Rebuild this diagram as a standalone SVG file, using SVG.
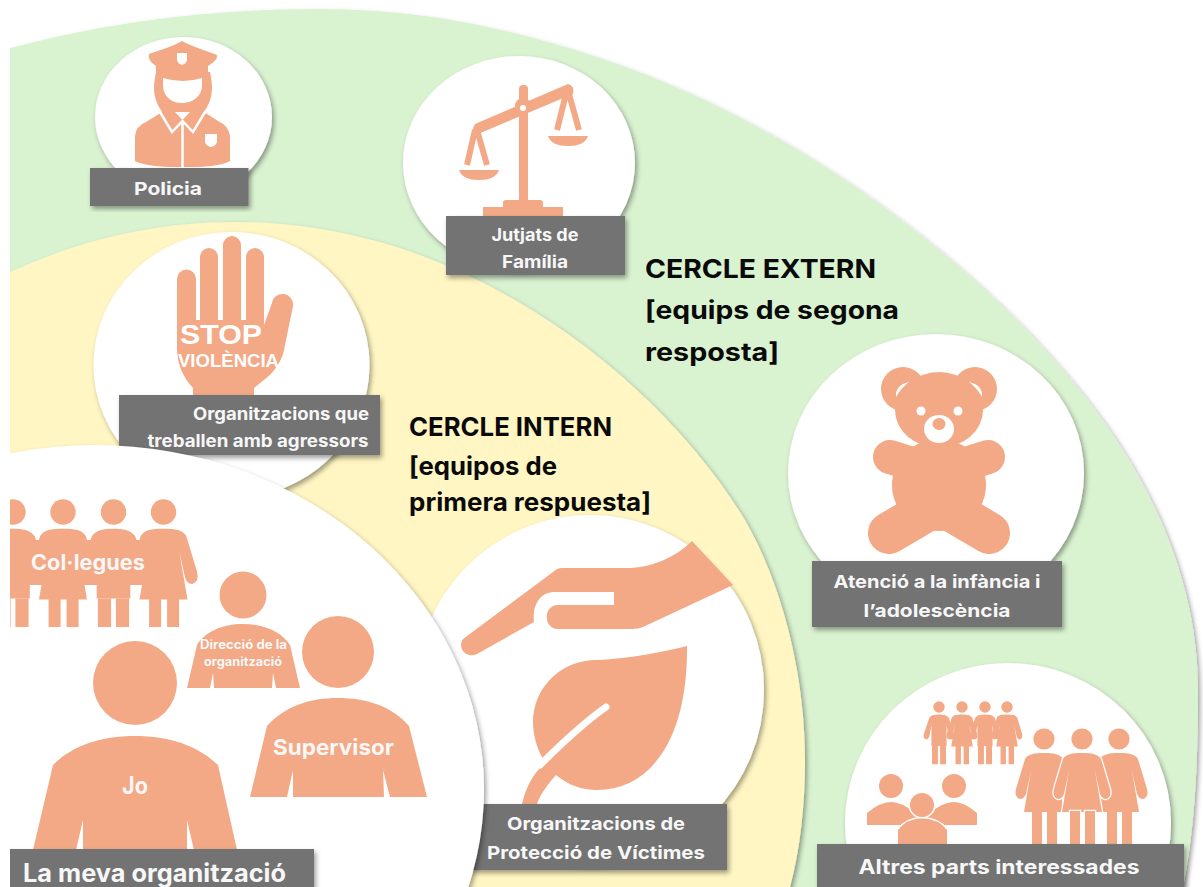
<svg xmlns="http://www.w3.org/2000/svg" xmlns:xlink="http://www.w3.org/1999/xlink" width="1203" height="887" viewBox="0 0 1203 887">
<style>
.ic{fill:#F3A985}
.w{fill:#fff}
.wl{fill:none;stroke:#fff;stroke-linecap:round}
.disc{fill:#fff;filter:url(#sh)}
.lab{fill:#737373;filter:url(#sh)}
text{font-family:"Inter","Liberation Sans",sans-serif}
.t{fill:#F7F7F7;font-weight:700;text-anchor:middle}
.h{fill:#0A0A0A;font-weight:700;font-size:25.500px}
.s{font-family:"Liberation Sans",Arial,sans-serif;font-weight:700;fill:#fff;text-anchor:middle}
</style>
<defs>
<filter id="sh" x="-10%" y="-10%" width="125%" height="125%"><feDropShadow dx="2" dy="3" stdDeviation="2.5" flood-color="#000" flood-opacity=".38"/></filter>
<clipPath id="page"><rect x="10" y="0" width="1193" height="887"/></clipPath>
<clipPath id="coll"><rect x="10" y="490" width="200" height="137"/></clipPath>
<g id="woman"><circle r="10.6"/><path d="M0 14C10 14 16 15 19 20L28 50Q30 58 24 60Q20 60 18 55L13 32L20 73L-20 73L-13 32L-18 55Q-20 60-24 60Q-30 58-28 50L-19 20C-16 15-10 14 0 14Z"/><rect x="-12" y="72" width="10" height="34"/><rect x="3" y="72" width="10" height="34"/></g>
<g id="man"><circle r="10.6"/><path d="M0 14C8 14 14 15 18 20L28 50Q30 58 24 60Q20 60 18 55L14 34L14 72L-14 72L-14 34L-18 55Q-20 60-24 60Q-30 58-28 50L-18 20C-14 15-8 14 0 14Z"/><rect x="-13" y="72" width="11" height="34"/><rect x="2" y="72" width="11" height="34"/></g>
</defs>
<rect width="1203" height="887" fill="#fff"/>
<g id="rings" clip-path="url(#page)">
<path id="cercle-extern" fill="#D9F2D0" filter="url(#sh)" d="M0 51C110 20 220 9 320 9C420 9 510 28 600 58C780 118 950 240 1063 370C1150 470 1198 580 1198 690C1198 760 1195 830 1183 887L1183 900L0 900Z"/>
<path id="cercle-intern" fill="#FFF6C3" filter="url(#sh)" d="M0 277C80 238 160 222 235 222C330 222 420 248 497 290C600 345 690 430 745 520C785 590 805 680 805 760C805 805 800 850 790 887L790 900L0 900Z"/>
</g>
<g id="policia">
<ellipse class="disc" cx="183.500" cy="117" rx="88.500" ry="80"/>
<g class="ic">
<path d="M156 72C152 90 154 100 162 112L146 122Q136 126 135 136L135 161Q145 166 170 167L196 167Q222 166 230 161L230 136Q229 126 218 121L204 112C212 100 214 90 210 72Z"/>
<path d="M182 41C190 46 205 50 217 55Q218 60 208 66L208 73Q183 83 156 73L156 66Q147 60 149 54C160 50 174 46 182 41Z"/>
</g>
<path class="w" d="M163 78Q183 84 202 78L202 85C202 97 192 103 182 103C172 103 163 97 163 85Z"/>
<path class="w" d="M175 112L190 112L182.500 120Z"/>
<path class="wl" stroke-width="2.500" d="M160 112L172 132L182.500 121L193 132L205 112M182.500 122V168"/>
<path class="w" d="M177 53H187V60Q186 64 182 65Q178 64 177 60Z"/>
<path class="w" d="M205 134H217V142Q216 146 211 147Q206 146 205 142Z"/>
<rect class="lab" x="90" y="168" width="158.500" height="38"/>
<text class="t" x="168" y="194.500" font-size="18" textLength="68" lengthAdjust="spacingAndGlyphs">Policia</text>
</g>
<g id="jutjats">
<ellipse class="disc" cx="519" cy="163" rx="116" ry="107"/>
<g class="ic">
<rect x="519" y="85" width="9" height="125" rx="4"/>
<path d="M475 124L568 84Q575 86 573 94L478 134Q470 132 475 124Z"/>
<circle cx="523" cy="106" r="8"/>
<path d="M459 170H499Q496 180 479 180Q462 180 459 170Z"/>
<path d="M548 136H588Q585 146 568 146Q551 146 548 136Z"/>
<path d="M483 216V207H503V203Q503 200 506 200H540Q543 200 543 203V207H563V216Z"/>
</g>
<path d="M475 130L467 165M477 130L487 165M566 94L557 130M569 94L579 130" fill="none" stroke="#F3A985" stroke-width="6"/>
<circle class="w" cx="523" cy="108" r="3"/>
<rect class="lab" x="446" y="216" width="179" height="59"/>
<text class="t" x="535" y="241" font-size="17" textLength="87" lengthAdjust="spacingAndGlyphs">Jutjats de</text>
<text class="t" x="535" y="268" font-size="17" textLength="66" lengthAdjust="spacingAndGlyphs">Família</text>
</g>
<g id="text-extern">
<text class="h" x="645" y="278" textLength="231" lengthAdjust="spacingAndGlyphs">CERCLE EXTERN</text>
<text class="h" x="645" y="319" textLength="254" lengthAdjust="spacingAndGlyphs">[equips de segona</text>
<text class="h" x="645" y="361" textLength="134" lengthAdjust="spacingAndGlyphs">resposta]</text>
</g>
<g id="teddy">
<ellipse class="disc" cx="936" cy="473" rx="148" ry="139"/>
<g class="ic">
<circle cx="903" cy="389" r="22"/><circle cx="975" cy="389" r="22"/>
<ellipse cx="939" cy="410" rx="44" ry="38"/>
<ellipse cx="939" cy="485" rx="47" ry="46"/>
<path d="M889 533L923 513M989 533L955 513" stroke="#F3A985" stroke-width="42" stroke-linecap="round"/>
<path d="M890 457L912 464M988 457L966 464" stroke="#F3A985" stroke-width="34" stroke-linecap="round"/>
</g>
<path class="w" d="M896 397Q895 385 909 382Q901 388 896 397ZM982 397Q983 385 969 382Q977 388 982 397Z"/>
<circle class="w" cx="921" cy="411" r="4.500"/><circle class="w" cx="958" cy="411" r="4.500"/>
<ellipse class="w" cx="939" cy="429" rx="15" ry="14"/>
<ellipse class="ic" cx="939" cy="424" rx="6.500" ry="6"/>
<rect class="lab" x="812" y="561" width="250" height="66"/>
<text class="t" x="937" y="588" font-size="18" textLength="207" lengthAdjust="spacingAndGlyphs">Atenció a la infància i</text>
<text class="t" x="937" y="617" font-size="18" textLength="147" lengthAdjust="spacingAndGlyphs">l’adolescència</text>
</g>
<g id="altres">
<ellipse class="disc" cx="1008" cy="823" rx="163" ry="160"/>
<g class="ic">
<use xlink:href="#man" href="#man" transform="translate(939 707) scale(.54)"/>
<use xlink:href="#woman" href="#woman" transform="translate(962 707) scale(.54)"/>
<use xlink:href="#man" href="#man" transform="translate(985 707) scale(.54)"/>
<use xlink:href="#woman" href="#woman" transform="translate(1007 707) scale(.54)"/>
<use xlink:href="#woman" href="#woman" transform="translate(1044 739)"/>
<use xlink:href="#woman" href="#woman" transform="translate(1119 739)"/>
<use xlink:href="#woman" href="#woman" transform="translate(1082 739)" stroke="#fff" stroke-width="2.500" style="paint-order:stroke"/>
<circle cx="891" cy="786" r="12"/><circle cx="954" cy="786" r="12"/>
<path d="M867 825V813Q880 802 891 802Q902 802 915 813L925 825ZM977 825V813Q964 802 954 802Q943 802 930 813L920 825Z"/>
<path d="M898 844V830Q906 819 922 818Q939 819 947 830V844Z" stroke="#fff" stroke-width="3" style="paint-order:stroke"/>
<circle cx="922" cy="805" r="12" stroke="#fff" stroke-width="3" style="paint-order:stroke"/>
</g>
<rect class="lab" x="817" y="844" width="367" height="50"/>
<text class="t" x="999" y="874" font-size="19.500" textLength="281" lengthAdjust="spacingAndGlyphs">Altres parts interessades</text>
</g>
<g id="stop">
<ellipse class="disc" cx="231.500" cy="365" rx="138" ry="133"/>
<path class="ic" d="M177 279A9.500 9.500 0 0 1 196 279V320H200V257A9 9 0 0 1 218 257V320H223V245A9 9 0 0 1 241 245V320H246V257A9 9 0 0 1 264 257V325L272 303A10.500 10.500 0 0 1 293 306L284 350Q282 362 270 375L254 388V404H193V388Q178 372 177 350Z"/>
<text class="s" x="221" y="344" font-size="28" textLength="82" lengthAdjust="spacingAndGlyphs">STOP</text>
<text class="s" x="228.500" y="367" font-size="18" textLength="101" lengthAdjust="spacingAndGlyphs">VIOLÈNCIA</text>
<rect class="lab" x="119" y="395" width="261" height="60"/>
<text class="t" x="281" y="420" font-size="17" textLength="176" lengthAdjust="spacingAndGlyphs">Organitzacions que</text>
<text class="t" x="258" y="447" font-size="17" textLength="221" lengthAdjust="spacingAndGlyphs">treballen amb agressors</text>
</g>
<g id="text-intern">
<text class="h" x="409" y="436" textLength="203" lengthAdjust="spacingAndGlyphs">CERCLE INTERN</text>
<text class="h" x="409" y="475" textLength="148" lengthAdjust="spacingAndGlyphs">[equipos de</text>
<text class="h" x="409" y="511" textLength="242" lengthAdjust="spacingAndGlyphs">primera respuesta]</text>
</g>
<g id="proteccio">
<ellipse class="disc" cx="590" cy="690" rx="174" ry="175"/>
<g class="ic">
<path d="M692 541L733 585L643 627Q638 629 633 629L558 629C543 629 543 605 558 605L614 605L614 592L555 592C540 592 532 605 534 622L477 654C466 659 457 648 463 639L553 572Q557 568 562 568L627 568C650 568 675 558 692 541Z"/>
<path d="M687 646C650 655 615 660 593 660C558 662 533 690 533 722C533 735 537 748 542 757L543 765C532 775 525 790 522 804L537 804C540 795 547 785 556 775C568 785 582 790 597 790C650 790 688 740 687 646Z"/>
</g>
<path class="wl" stroke-width="7" d="M606 707C585 722 560 745 540 765"/>
<rect class="lab" x="470" y="804" width="257" height="66"/>
<text class="t" x="596" y="830" font-size="18" textLength="178" lengthAdjust="spacingAndGlyphs">Organitzacions de</text>
<text class="t" x="596" y="859" font-size="18" textLength="218" lengthAdjust="spacingAndGlyphs">Protecció de Víctimes</text>
</g>
<g id="organitzacio" clip-path="url(#page)">
<ellipse class="disc" cx="95" cy="790" rx="389" ry="345"/>
<g class="ic">
<g clip-path="url(#coll)">
<rect x="10" y="540" width="165" height="45"/>
<use xlink:href="#man" href="#man" transform="translate(13 512) scale(1.200)"/>
<use xlink:href="#woman" href="#woman" transform="translate(63 512) scale(1.200)"/>
<use xlink:href="#man" href="#man" transform="translate(113.500 512) scale(1.200)"/>
<use xlink:href="#woman" href="#woman" transform="translate(163.500 512) scale(1.200)"/>
</g>
<circle cx="243" cy="595" r="23.500"/>
<path d="M187 688L197 645C205 632 222 624 243 624C264 624 282 632 290 645L300 688H276L273 673L272 688H214L213 673L210 688Z"/>
<circle cx="338" cy="652" r="36"/>
<path d="M250 797L267 726C285 706 310 698 338 698C366 698 392 706 409 726L427 797H390L383 770L384 797H293L293 770L287 797Z"/>
<circle cx="135" cy="683" r="42"/>
<path d="M33 850L53 765C72 746 100 736 135 736C170 736 198 746 218 765L237 850H194L187 820L187 850H83L83 820L76 850Z"/>
</g>
<text class="t" x="88" y="570" font-size="21" textLength="114" lengthAdjust="spacingAndGlyphs">Col·legues</text>
<text class="t" x="243.500" y="649" font-size="12.500" textLength="87" lengthAdjust="spacingAndGlyphs">Direcció de la</text>
<text class="t" x="243" y="666" font-size="12.500" textLength="78" lengthAdjust="spacingAndGlyphs">organització</text>
<text class="t" x="333.500" y="755" font-size="21" textLength="121" lengthAdjust="spacingAndGlyphs">Supervisor</text>
<text class="t" x="135" y="794" font-size="24" textLength="26" lengthAdjust="spacingAndGlyphs">Jo</text>
<rect class="lab" x="0" y="849" width="314" height="50"/>
<text class="t" x="154.500" y="882" font-size="25" textLength="263" lengthAdjust="spacingAndGlyphs">La meva organització</text>
</g>
</svg>
